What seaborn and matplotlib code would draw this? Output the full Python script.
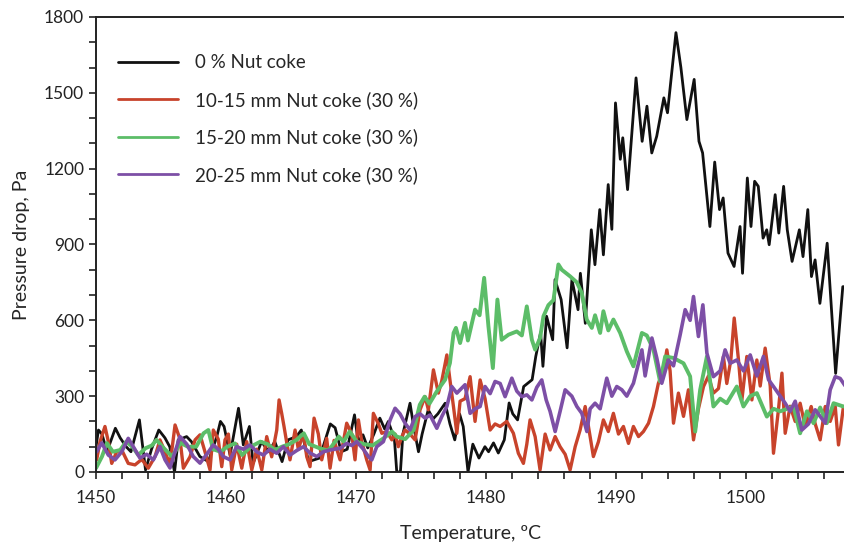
import pandas as pd
import matplotlib.pyplot as plt
import seaborn as sns
from matplotlib.ticker import MultipleLocator

# Datos (temperatura en ºC, caída de presión en Pa)
t_0 = [1450.0, 1450.19, 1450.46, 1450.84, 1451.49, 1451.86, 1452.32, 1452.69, 1453.34, 1453.81,
       1454.27, 1454.83, 1455.30, 1455.67, 1456.04, 1456.32, 1456.97, 1457.34, 1457.99, 1458.64,
       1459.29, 1459.57, 1459.85, 1460.31, 1460.96, 1461.33, 1461.80, 1462.08, 1462.73, 1463.28,
       1463.75, 1464.31, 1464.77, 1465.42, 1465.79, 1466.35, 1467.19, 1468.02, 1468.39, 1468.86,
       1469.32, 1469.88, 1470.16, 1470.53, 1470.90, 1471.37, 1471.83, 1472.20, 1472.48, 1472.95,
       1473.13, 1473.41, 1473.60, 1474.15, 1474.43, 1474.80, 1475.08, 1475.55, 1475.92, 1476.29,
       1476.85, 1477.22, 1477.59, 1477.96, 1478.24, 1478.61, 1478.98, 1479.45, 1479.91, 1480.19,
       1480.57, 1480.94, 1481.40, 1481.77, 1482.05, 1482.42, 1482.89, 1483.54, 1483.82, 1484.19,
       1484.37, 1484.65, 1485.12, 1485.30, 1485.77, 1486.23, 1486.60, 1487.07, 1487.25, 1487.63,
       1488.09, 1488.37, 1488.74, 1489.02, 1489.39, 1489.67, 1489.95, 1490.32, 1490.51, 1490.88,
       1491.53, 1492.00, 1492.37, 1492.74, 1493.12, 1493.67, 1493.95, 1494.60, 1494.98, 1495.44,
       1496.00, 1496.37, 1496.65, 1497.21, 1497.58, 1497.95, 1498.23, 1498.60, 1499.07, 1499.53,
       1499.72, 1500.09, 1500.37, 1500.65, 1500.93, 1501.30, 1501.58, 1501.77, 1502.23, 1502.51,
       1502.88, 1503.16, 1503.53, 1504.09, 1504.37, 1504.74, 1505.02, 1505.30, 1505.67, 1506.23,
       1506.88, 1507.43, 1507.80]
p_0 = [100, 166, 150, 80, 173, 135, 100, 80, 206, 8,
       90, 166, 135, 100, 0, 127, 140, 120, 61, 41,
       140, 200, 180, 67, 252, 107, 180, 34, 120, 80,
       120, 41, 127, 140, 166, 41, 55, 190, 175, 80,
       90, 226, 120, 147, 95, 150, 213, 170, 200, 130,
       0, 0, 150, 272, 180, 80, 150, 246, 210, 230,
       272, 190, 127, 230, 180, 0, 110, 55, 100, 80,
       115, 75, 127, 273, 230, 206, 338, 365, 457, 551,
       418, 616, 523, 761, 682, 491, 761, 642, 786, 588,
       958, 820, 1038, 859, 1137, 960, 1460, 1237, 1322, 1117,
       1559, 1308, 1447, 1262, 1328, 1480, 1421, 1738, 1600, 1394,
       1553, 1308, 1262, 971, 1226, 1038, 1084, 866, 813, 971,
       786, 1163, 971, 1150, 1130, 925, 958, 899, 1097, 945,
       1130, 958, 833, 958, 852, 1038, 773, 839, 667, 905,
       390, 733, 733]

t_10 = [1450.05, 1450.31, 1450.69, 1450.95, 1451.21, 1451.59, 1451.98, 1452.48, 1453.0, 1453.52,
        1454.02, 1454.54, 1454.92, 1455.31, 1455.69, 1456.08, 1456.46, 1456.72, 1457.23, 1457.62,
        1458.0, 1458.38, 1458.77, 1459.02, 1459.4, 1459.67, 1459.92, 1460.18, 1460.44, 1460.82,
        1461.21, 1461.59, 1461.98, 1462.36, 1462.75, 1463.13, 1463.51, 1463.9, 1464.08, 1464.28,
        1464.46, 1464.72, 1464.92, 1465.31, 1465.56, 1465.95, 1466.21, 1466.46, 1466.77, 1467.1,
        1467.36, 1467.74, 1468.0, 1468.31, 1468.64, 1468.77, 1469.02, 1469.28, 1469.67, 1469.92,
        1470.18, 1470.44, 1470.82, 1471.08, 1471.33, 1471.72, 1471.98, 1472.36, 1472.75, 1473.0,
        1473.25, 1473.52, 1473.77, 1474.15, 1474.54, 1474.92, 1475.31, 1475.56, 1475.95, 1476.33,
        1476.59, 1476.98, 1477.23, 1477.49, 1477.75, 1478.0, 1478.38, 1478.77, 1479.15, 1479.54,
        1479.92, 1480.31, 1480.69, 1481.08, 1481.59, 1482.1, 1482.48, 1482.87, 1483.13, 1483.38,
        1483.77, 1484.15, 1484.54, 1484.92, 1485.31, 1485.69, 1486.08, 1486.46, 1486.85, 1487.23,
        1487.62, 1488.0, 1488.25, 1488.64, 1489.02, 1489.4, 1489.79, 1490.18, 1490.56, 1490.95,
        1491.33, 1491.72, 1492.1, 1492.49, 1492.87, 1493.25, 1493.64, 1493.9, 1494.15, 1494.41,
        1494.79, 1495.18, 1495.56, 1495.95, 1496.33, 1496.72, 1497.1, 1497.48, 1497.87, 1498.25,
        1498.51, 1498.82, 1499.08, 1499.41, 1499.67, 1500.05, 1500.44, 1500.82, 1501.08, 1501.46,
        1501.85, 1502.1, 1502.49, 1502.75, 1503.0, 1503.38, 1503.77, 1504.15, 1504.54, 1505.0,
        1505.31, 1505.69, 1506.08, 1506.46, 1506.85, 1507.1, 1507.48]
p_10 = [48, 120, 180, 120, 34, 80, 87, 34, 28, 50,
        15, 61, 127, 80, 28, 186, 130, 15, 60, 127,
        147, 80, 8, 166, 130, 21, 127, 150, 8, 110,
        15, 120, 8, 90, 8, 140, 60, 166, 285, 232,
        180, 100, 48, 166, 90, 153, 60, 21, 213, 150,
        48, 133, 15, 125, 70, 48, 120, 193, 150, 48,
        206, 120, 48, 8, 232, 190, 153, 160, 127, 150,
        100, 140, 166, 150, 127, 246, 298, 246, 404, 312,
        360, 463, 360, 259, 153, 280, 290, 377, 200, 364,
        290, 166, 190, 180, 200, 153, 74, 34, 110, 206,
        140, 8, 150, 87, 140, 100, 70, 8, 100, 166,
        259, 140, 61, 120, 206, 160, 232, 150, 180, 113,
        180, 140, 160, 193, 259, 351, 400, 483, 400, 193,
        312, 220, 325, 127, 250, 338, 380, 312, 330, 457,
        350, 443, 609, 443, 285, 457, 285, 443, 340, 490,
        340, 74, 250, 391, 153, 260, 200, 272, 180, 259,
        190, 127, 259, 200, 259, 107, 259]

t_15 = [1450.0, 1450.46, 1450.84, 1451.3, 1451.86, 1452.32, 1452.8, 1453.25, 1453.81, 1454.3,
        1454.65, 1455.2, 1455.85, 1456.5, 1457.06, 1457.71, 1458.27, 1458.64, 1459.0, 1459.57,
        1460.1, 1460.68, 1461.24, 1461.9, 1462.64, 1463.2, 1463.75, 1464.3, 1464.86, 1465.42,
        1465.98, 1466.4, 1467.19, 1467.8, 1468.02, 1468.67, 1469.04, 1469.51, 1470.06, 1470.62,
        1471.27, 1472.11, 1472.76, 1473.13, 1473.78, 1474.43, 1474.9, 1475.27, 1475.64, 1476.2,
        1476.85, 1477.22, 1477.5, 1477.68, 1478.0, 1478.38, 1478.6, 1479.15, 1479.5, 1479.85,
        1480.18, 1480.52, 1480.87, 1481.2, 1481.72, 1482.36, 1482.75, 1483.13, 1483.52, 1483.77,
        1484.15, 1484.41, 1484.79, 1485.18, 1485.56, 1485.82, 1486.46, 1486.98, 1487.36, 1487.74,
        1488.13, 1488.38, 1488.77, 1489.02, 1489.4, 1489.79, 1490.31, 1490.82, 1491.33, 1491.98,
        1492.36, 1492.87, 1493.38, 1493.77, 1494.41, 1495.18, 1495.69, 1496.08, 1496.46, 1496.98,
        1497.48, 1498.0, 1498.51, 1499.28, 1499.79, 1500.31, 1500.82, 1501.59, 1502.1, 1502.62,
        1503.64, 1504.15, 1504.67, 1505.18, 1505.69, 1506.2, 1506.72, 1507.48]
p_15 = [15, 61, 114, 80, 87, 120, 100, 67, 94, 105,
        127, 95, 61, 115, 100, 100, 153, 166, 90, 80,
        100, 113, 67, 100, 120, 110, 87, 100, 110, 127,
        153, 110, 94, 85, 94, 140, 120, 160, 120, 110,
        105, 133, 160, 140, 130, 166, 266, 298, 270, 318,
        365, 431, 550, 570, 510, 590, 520, 642, 620, 768,
        576, 411, 682, 523, 543, 556, 540, 655, 523, 484,
        530, 616, 660, 680, 821, 800, 774, 750, 708, 603,
        570, 620, 550, 636, 560, 603, 550, 477, 418, 550,
        540, 484, 358, 457, 451, 430, 378, 160, 325, 457,
        259, 290, 272, 338, 259, 300, 312, 219, 250, 240,
        259, 153, 240, 193, 255, 193, 272, 259]

t_20 = [1450.05, 1450.44, 1450.95, 1451.46, 1451.98, 1452.48, 1452.87, 1453.38, 1453.9, 1454.41,
        1454.92, 1455.31, 1455.69, 1456.08, 1456.46, 1456.98, 1457.48, 1458.0, 1458.52, 1459.02,
        1459.4, 1459.79, 1460.31, 1460.82, 1461.33, 1461.85, 1462.36, 1462.87, 1463.38, 1463.9,
        1464.41, 1464.92, 1465.44, 1465.95, 1466.46, 1466.98, 1467.48, 1468.0, 1468.77, 1469.28,
        1469.67, 1470.05, 1470.56, 1470.95, 1471.21, 1471.59, 1472.1, 1472.62, 1473.0, 1473.38,
        1473.77, 1474.15, 1474.54, 1474.92, 1475.31, 1475.69, 1476.21, 1476.59, 1476.98, 1477.36,
        1477.75, 1478.0, 1478.38, 1478.77, 1479.15, 1479.54, 1479.92, 1480.31, 1480.69, 1481.08,
        1481.46, 1481.98, 1482.36, 1482.75, 1483.13, 1483.52, 1483.9, 1484.28, 1484.62, 1484.92,
        1485.31, 1485.69, 1486.08, 1486.59, 1486.98, 1487.36, 1487.75, 1488.0, 1488.38, 1488.77,
        1489.28, 1489.67, 1490.05, 1490.44, 1490.82, 1491.33, 1491.98, 1492.23, 1492.75, 1493.13,
        1493.51, 1494.02, 1494.41, 1494.92, 1495.31, 1495.69, 1495.95, 1496.33, 1496.67, 1496.98,
        1497.48, 1498.0, 1498.38, 1498.77, 1499.28, 1499.79, 1500.31, 1500.82, 1501.33, 1501.72,
        1502.1, 1502.62, 1503.0, 1503.38, 1503.77, 1504.28, 1504.79, 1505.31, 1505.69, 1506.08,
        1506.46, 1506.85, 1507.23, 1507.62]
p_20 = [80, 115, 67, 48, 80, 133, 100, 55, 70, 48,
        100, 48, 16, 80, 140, 110, 61, 35, 70, 107,
        90, 61, 48, 100, 90, 107, 80, 67, 90, 74,
        100, 67, 85, 100, 75, 61, 80, 87, 94, 113,
        105, 120, 90, 61, 48, 100, 120, 206, 252, 230,
        193, 166, 219, 230, 213, 225, 173, 219, 259, 338,
        312, 325, 345, 232, 250, 259, 338, 310, 358, 350,
        298, 371, 320, 298, 305, 285, 335, 364, 285, 240,
        160, 240, 325, 300, 259, 232, 160, 250, 272, 250,
        371, 300, 338, 325, 300, 351, 483, 380, 530, 450,
        351, 443, 420, 542, 642, 600, 694, 536, 661, 470,
        377, 400, 483, 430, 443, 400, 463, 380, 457, 365,
        338, 300, 272, 240, 280, 166, 190, 246, 220, 193,
        325, 377, 370, 340]

labels = ['0 % Nut coke', '10-15 mm Nut coke (30 %)',
          '15-20 mm Nut coke (30 %)', '20-25 mm Nut coke (30 %)']
colores = ['#111111', '#C8432B', '#5CBD68', '#7D4FA6']

sns.set_theme(style='ticks')
plt.rcParams['font.family'] = ['Lato', 'DejaVu Sans']

fig = plt.figure(figsize=(8.45, 5.49), dpi=100)
ax = fig.add_axes([0.1136, 0.1403, 0.8864, 0.8288])

series = [(t_0, p_0), (t_10, p_10), (t_15, p_15), (t_20, p_20)]
anchos = [2.0, 2.4, 2.8, 2.6]
for (t, p), lab, col, lw in zip(series, labels, colores, anchos):
    df = pd.DataFrame({'T': t, 'P': p})
    sns.lineplot(data=df, x='T', y='P', ax=ax, color=col, lw=lw,
                 label=lab, estimator=None, sort=False)

ax.set_xlim(1450, 1507.6)
ax.set_ylim(0, 1800)
ax.xaxis.set_major_locator(MultipleLocator(10))
ax.xaxis.set_minor_locator(MultipleLocator(2))
ax.yaxis.set_major_locator(MultipleLocator(300))
ax.yaxis.set_minor_locator(MultipleLocator(100))
ax.tick_params(which='both', direction='out', length=5, width=1.2, color='#222222')
ax.tick_params(axis='x', pad=8)
ax.tick_params(labelsize=12.5, colors='#222222')

for s in ['left', 'bottom', 'top']:
    ax.spines[s].set_color('#222222')
    ax.spines[s].set_linewidth(1.4)
ax.spines['right'].set_visible(False)

ax.set_xlabel('Temperature, ºC', fontsize=14, labelpad=14)
ax.set_ylabel('Pressure drop, Pa', fontsize=14, labelpad=10)

leg = ax.legend(loc='upper left', bbox_to_anchor=(0.029, 0.918), frameon=False,
                borderpad=0, borderaxespad=0, fontsize=13.5, handlelength=3.2,
                handletextpad=0.9, labelspacing=1.05)
for h in leg.get_lines():
    h.set_linewidth(2.0)

fig.savefig('out.png', dpi=100)
